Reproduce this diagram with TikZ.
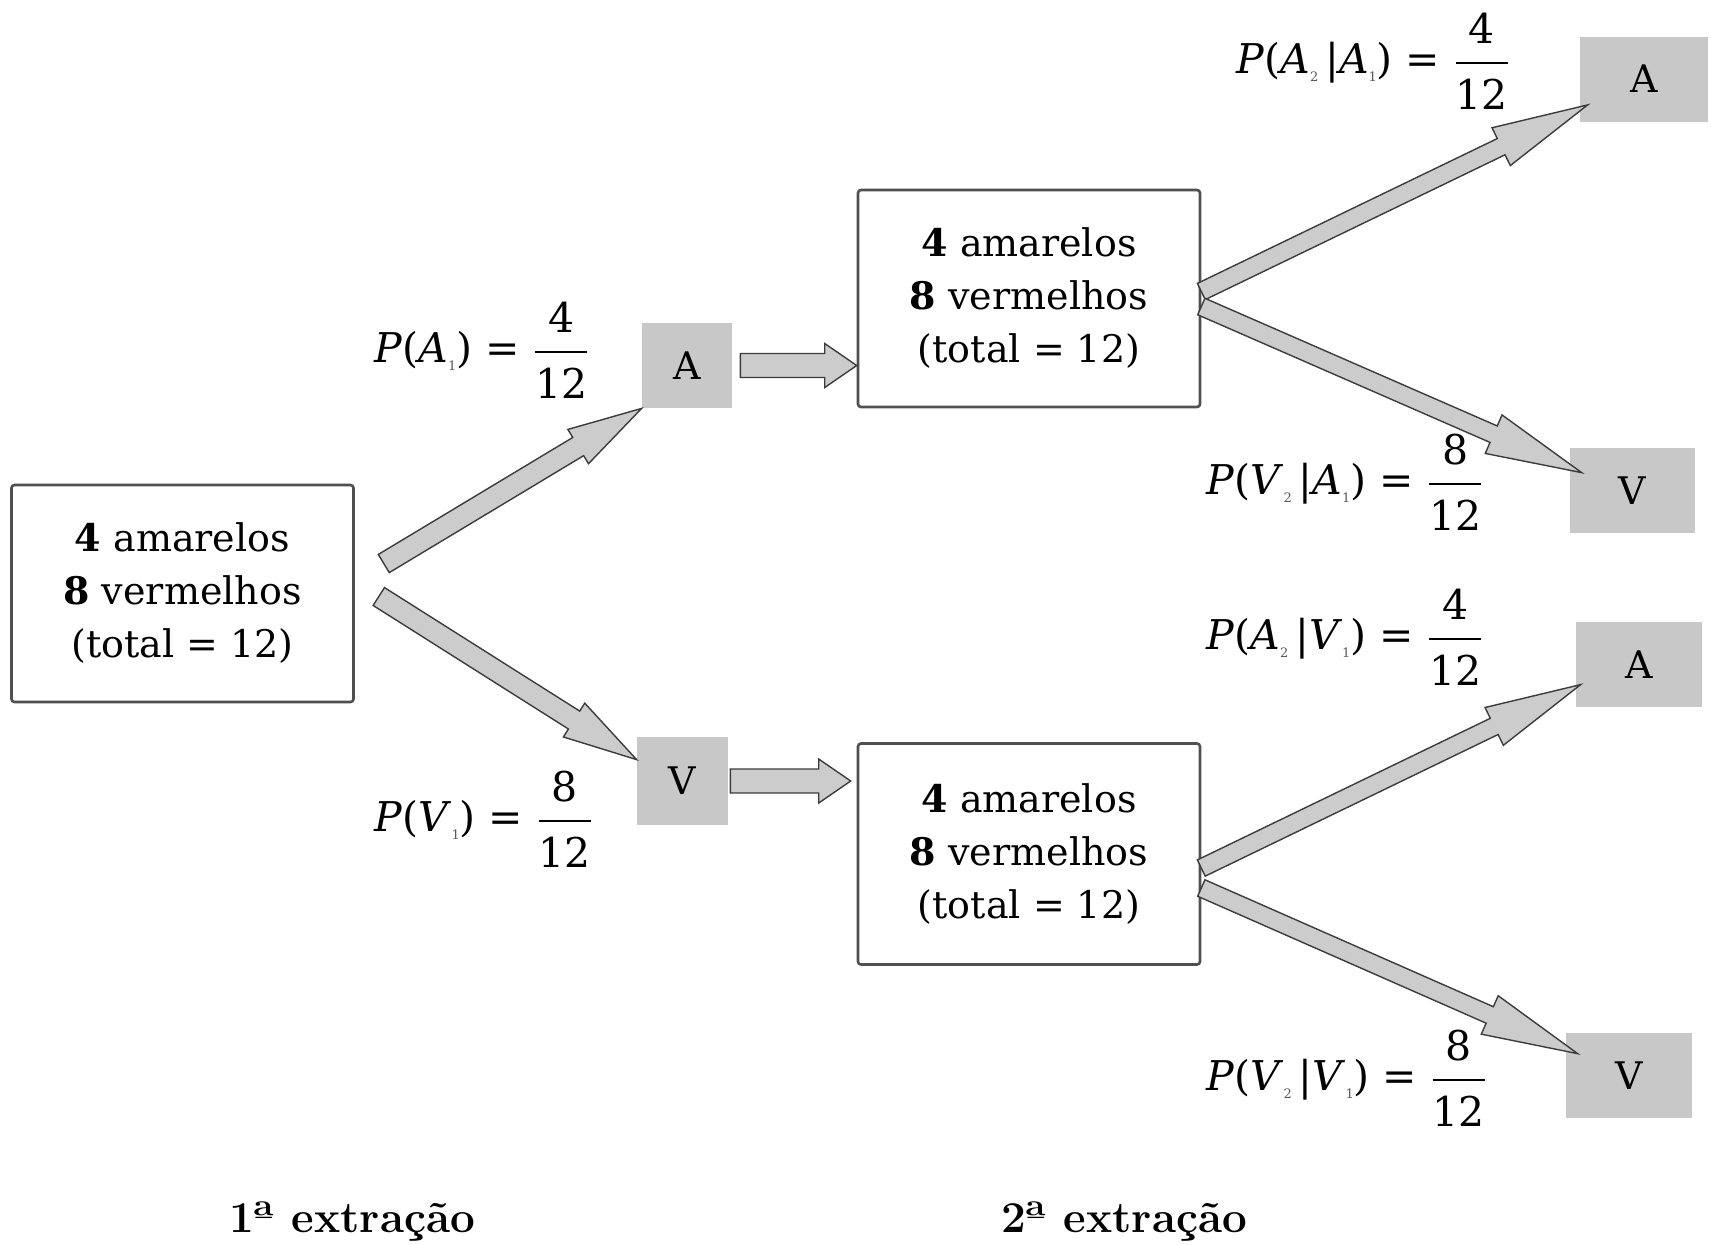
\documentclass[tikz,border=0pt]{standalone}
\usepackage{fix-cm}
\usepackage{amsmath}
\usepackage{fontspec}
\newfontfamily\boxfont{DejaVu Serif}
\usetikzlibrary{calc}

\definecolor{boxgray}{RGB}{200,200,200}
\definecolor{edgegray}{RGB}{80,80,80}
\definecolor{arrowfill}{RGB}{204,204,204}
\definecolor{arrowedge}{RGB}{60,60,60}

\tikzset{
  whitebox/.style={draw=edgegray, line width=1.3pt, rounded corners=1.5pt, fill=white,
    align=center, inner sep=0pt, minimum width=171pt, font=\boxfont\fontsize{19}{26.5}\selectfont},
  graybox/.style={fill=boxgray, inner sep=0pt, minimum height=42.5pt, font=\boxfont\fontsize{19}{24}\selectfont},
  problabel/.style={anchor=base west, inner sep=0pt, font=\boxfont\fontsize{20.5}{26}\selectfont},
  steplabel/.style={inner sep=0pt, font=\fontsize{22}{26}\selectfont\bfseries},
  blockarrowstyle/.style={fill=arrowfill, draw=arrowedge, line width=0.7pt, line join=miter},
}

% block arrow: start, tip, shaft half-width, head half-width, head length
\newcommand{\blockarrow}[5]{%
  \coordinate (ba-neck) at ($(#2)!#5!(#1)$);
  \draw[blockarrowstyle]
    ($(#1)!#3!90:(#2)$) -- ($(ba-neck)!#3!90:(#2)$) -- ($(ba-neck)!#4!90:(#2)$)
    -- (#2)
    -- ($(ba-neck)!#4!-90:(#2)$) -- ($(ba-neck)!#3!-90:(#2)$) -- ($(#1)!#3!-90:(#2)$) -- cycle;
}

\newcommand{\urncontent}{\textbf{4} amarelos\\ \textbf{8} vermelhos\\ (total = 12)}
% small index after an event letter
\newcommand{\evidx}[1]{\raisebox{-0.4ex}{\textcolor{black!65}{\fontsize{6.5}{7}\selectfont #1}}}
% probability value as a stacked fraction
\newcommand{\pval}[2]{$\dfrac{\raisebox{1pt}{\text{\boxfont #1}}}{\raisebox{-4pt}{\text{\boxfont #2}}}$}

\begin{document}
\begin{tikzpicture}[x=0.5pt, y=-0.5pt]
  \useasboundingbox[fill=white] (0,0) rectangle (1711,1244);

  % urns
  \node[whitebox, minimum height=108.5pt] (L)  at (182.5,593.5) {\urncontent};
  \node[whitebox, minimum height=108.5pt] (M1) at (1029,298.5) {\urncontent};
  \node[whitebox, minimum height=110.5pt] (M2) at (1029,854) {\urncontent};

  % outcomes of the first draw
  \node[graybox, minimum width=45pt] (A1) at (687,365.5) {A};
  \node[graybox, minimum width=45.5pt, minimum height=44pt] (V1) at (682.5,781) {V};

  % outcomes of the second draw
  \node[graybox, minimum width=64pt] (RA1) at (1644,79) {A};
  \node[graybox, minimum width=62.5pt] (RV1) at (1632.5,490.5) {V};
  \node[graybox, minimum width=63pt] (RA2) at (1639,664.5) {A};
  \node[graybox, minimum width=63pt] (RV2) at (1629,1075.5) {V};

  % connector end points
  \coordinate (sLA) at ($(L.east)+(29,-30)$);
  \coordinate (sLV) at ($(L.east)+(24,3)$);
  \coordinate (tLV) at ($(V1.north west)+(0,23)$);
  \coordinate (sAM) at ($(A1.east)+(8,0)$);
  \coordinate (tAM) at (A1.east -| M1.west);
  \coordinate (sVM) at ($(V1.east)+(2,0)$);
  \coordinate (tVM) at ($(V1.east -| M2.west)+(-6,0)$);
  \coordinate (sM1a) at ($(M1.east)+(0,-7)$);
  \coordinate (sM1v) at ($(M1.east)+(0,8)$);
  \coordinate (tRA1) at ($(RA1.south west)+(8,-17)$);
  \coordinate (tRV1) at ($(RV1.north west)+(12,25)$);
  \coordinate (sM2a) at ($(M2.east)+(0,14)$);
  \coordinate (sM2v) at ($(M2.east)+(0,34)$);
  \coordinate (tRA2) at ($(RA2.north west)+(5,63)$);
  \coordinate (tRV2) at ($(RV2.north west)+(12,21)$);

  % arrows
  \blockarrow{sLA}{A1.south west}{5.3pt}{10pt}{37pt}
  \blockarrow{sLV}{tLV}{5.3pt}{10pt}{37pt}
  \blockarrow{sAM}{tAM}{6pt}{11pt}{16pt}
  \blockarrow{sVM}{tVM}{6pt}{11pt}{16pt}
  \blockarrow{sM1a}{tRA1}{4.5pt}{10.5pt}{48pt}
  \blockarrow{sM1v}{tRV1}{4.5pt}{10.5pt}{48pt}
  \blockarrow{sM2a}{tRA2}{4.5pt}{10.5pt}{48pt}
  \blockarrow{sM2v}{tRV2}{4.5pt}{10.5pt}{48pt}

  % probabilities
  \node[problabel] (pA1) at (374,362) {\textit{P}(\textit{A}\evidx{1}) = \pval{4}{12}};
  \node[problabel] (pV1) at (374,831) {\textit{P}(\textit{V}\evidx{1}) = \pval{8}{12}};
  \node[problabel] (pAA) at (1236,73) {\textit{P}(\textit{A}\evidx{2}\,|\textit{A}\evidx{1}) = \pval{4}{12}};
  \node[problabel] (pVA) at (1206,494) {\textit{P}(\textit{V}\evidx{2}\,|\textit{A}\evidx{1}) = \pval{8}{12}};
  \node[problabel] (pAV) at (1206,649) {\textit{P}(\textit{A}\evidx{2}\,|\textit{V}\evidx{1}) = \pval{4}{12}};
  \node[problabel] (pVV) at (1206,1090) {\textit{P}(\textit{V}\evidx{2}\,|\textit{V}\evidx{1}) = \pval{8}{12}};

  % stage captions
  \node[steplabel] (e1) at (352,1222) {1ª extração};
  \node[steplabel] (e2) at (1124,1222) {2ª extração};
\end{tikzpicture}
\end{document}
